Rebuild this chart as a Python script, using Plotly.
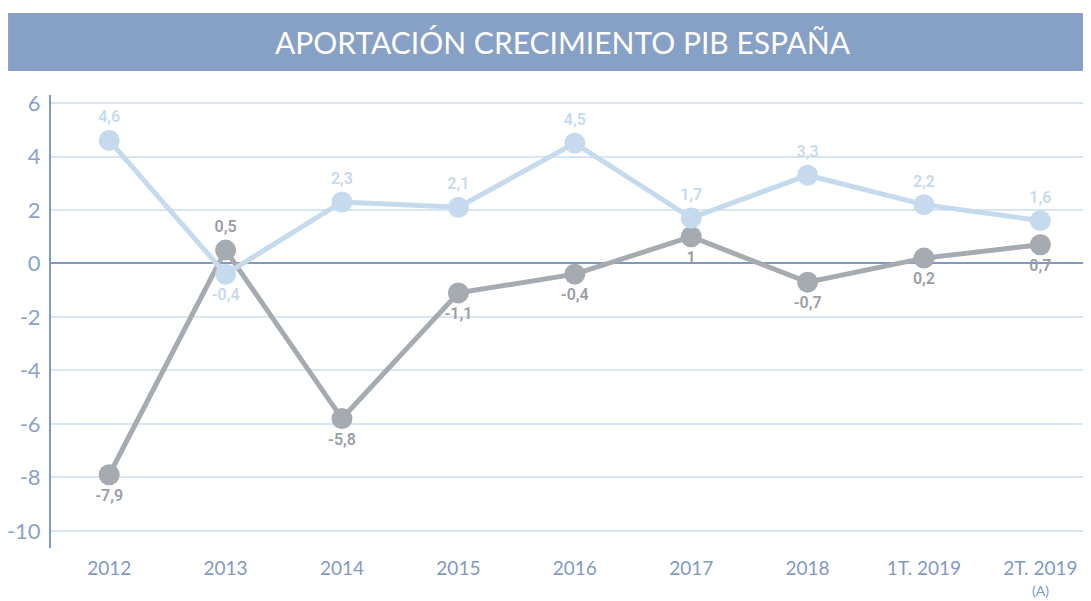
import plotly.graph_objects as go

# Datos
periodos = ['2012', '2013', '2014', '2015', '2016', '2017', '2018', '1T. 2019', '2T. 2019']
serie_clara = [4.6, -0.4, 2.3, 2.1, 4.5, 1.7, 3.3, 2.2, 1.6]
serie_oscura = [-7.9, 0.5, -5.8, -1.1, -0.4, 1.0, -0.7, 0.2, 0.7]
ticks_y = [-10, -8, -6, -4, -2, 0, 2, 4, 6]
nota_ultimo = '(A)'

# Posición de las etiquetas (arriba / abajo del punto)
pos_clara = ['top center', 'bottom center'] + ['top center'] * 7
pos_oscura = ['bottom center', 'top center'] + ['bottom center'] * 7

AZUL = '#8099c4'
CLARO = '#c6daed'
GRIS = '#a6aab1'


def fmt(v):
    return f'{v:g}'.replace('.', ',')


x = list(range(len(periodos)))

fig = go.Figure()

fig.add_trace(go.Scatter(
    x=x, y=serie_oscura, mode='lines+markers+text',
    line=dict(color=GRIS, width=5),
    marker=dict(color=GRIS, size=21),
    text=[fmt(v) for v in serie_oscura], textposition=pos_oscura,
    textfont=dict(family='Roboto', size=16, color='#9a9ea6', weight=600),
    cliponaxis=False, showlegend=False))

fig.add_trace(go.Scatter(
    x=x, y=serie_clara, mode='lines+markers+text',
    line=dict(color=CLARO, width=5),
    marker=dict(color=CLARO, size=21),
    text=[fmt(v) for v in serie_clara], textposition=pos_clara,
    textfont=dict(family='Roboto', size=16, color=CLARO, weight=600),
    cliponaxis=False, showlegend=False))

# Barra del título
fig.add_shape(type='rect', xref='paper', yref='paper',
              x0=-0.0413, x1=1.01, y0=1.053, y1=1.181,
              fillcolor='#87a0c6', line_width=0, layer='below')
fig.add_annotation(text='APORTACIÓN CRECIMIENTO PIB ESPAÑA',
                   xref='paper', yref='paper', x=0.492, y=1.117,
                   xanchor='center', yanchor='middle', showarrow=False,
                   font=dict(family='Lato', size=30, color='white'))

# nota bajo el último periodo
fig.add_annotation(text=nota_ultimo, x=x[-1], xref='x', yref='paper',
                   y=-0.094, yanchor='middle', showarrow=False,
                   font=dict(family='Lato', size=14, color=AZUL))

# la página añade 8 px de margen al cuerpo, por eso el lienzo es algo menor
fig.update_layout(
    width=1083, height=593,
    margin=dict(l=43, r=0, t=87, b=53),
    plot_bgcolor='white', paper_bgcolor='white',
    xaxis=dict(range=[-0.5, 8.435], tickvals=x, ticktext=periodos,
               showgrid=False, zeroline=False, showline=False,
               automargin=False,
               tickfont=dict(family='Lato', size=19, color=AZUL),
               ticklabelstandoff=7),
    yaxis=dict(range=[-10.64, 6.3], tickvals=ticks_y,
               ticktext=[str(v) for v in ticks_y],
               showgrid=True, gridcolor='#d8e5f3', gridwidth=1.5,
               zeroline=True, zerolinecolor=AZUL, zerolinewidth=2,
               showline=True, linecolor=AZUL, linewidth=2,
               automargin=False,
               tickfont=dict(family='Lato', size=22, color='#8aa2c9'),
               ticklabelstandoff=4),
)

fig.write_html('out.html')
